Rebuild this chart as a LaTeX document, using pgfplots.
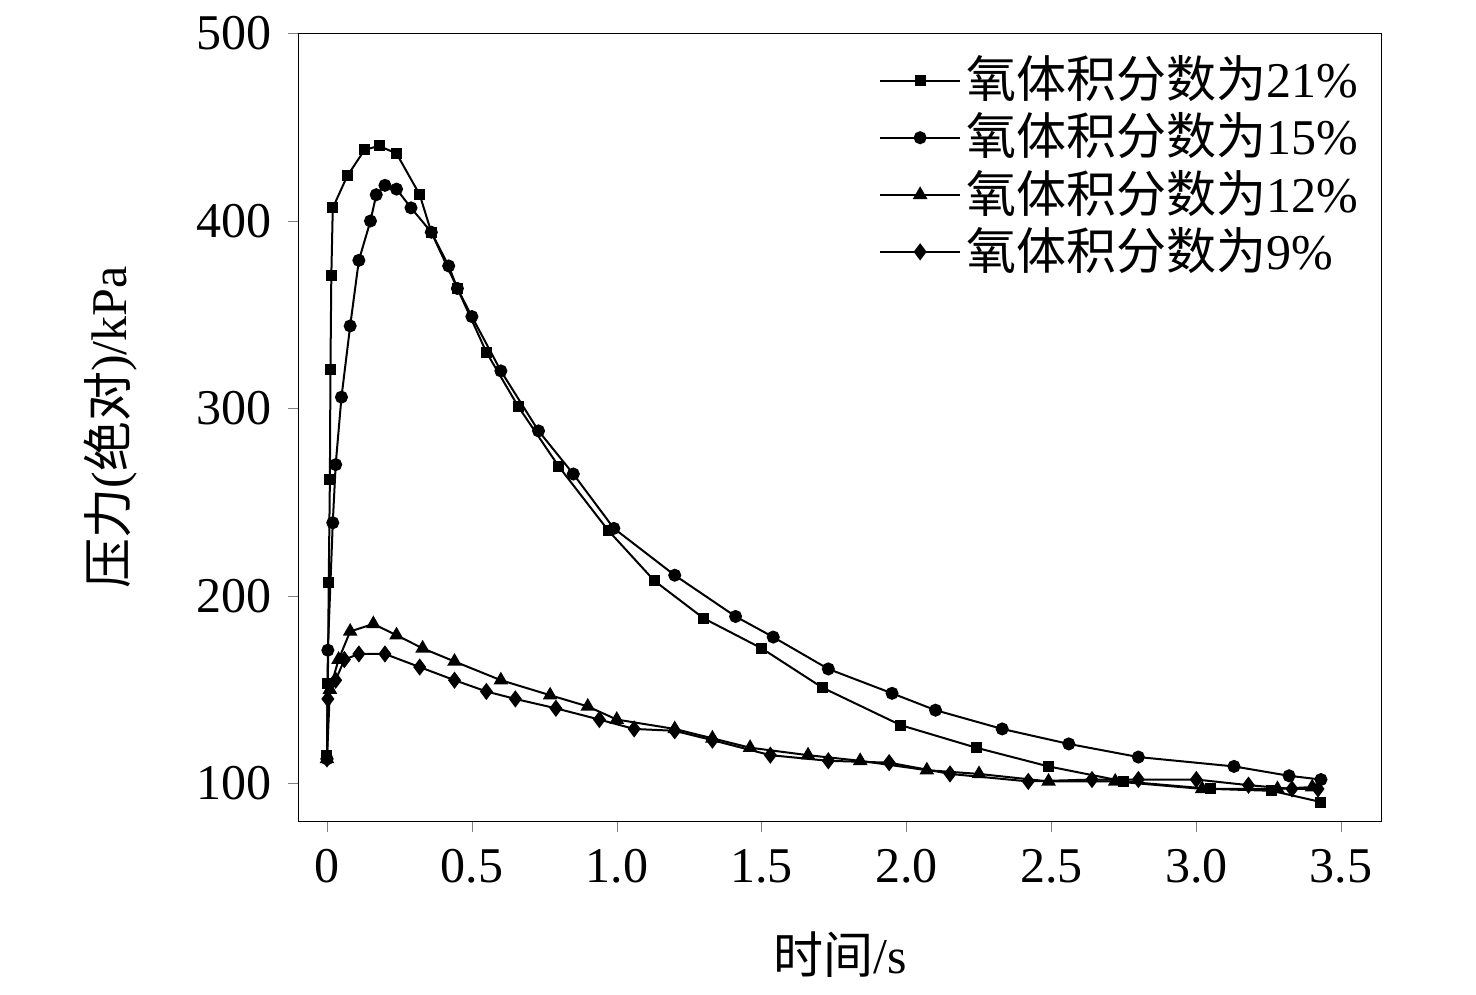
\documentclass[border=0pt]{standalone}
\usepackage{pgfplots}
\pgfplotsset{compat=1.18}
\usepackage{fontspec}
\setmainfont{Liberation Serif}
\newfontfamily\cjk{Noto Sans CJK SC}
\begin{document}
\fontsize{20}{24}\selectfont
\begin{tikzpicture}
\begin{axis}[scale only axis, width=433pt, height=315pt,
 xmin=-0.097, xmax=3.64, ymin=79.7, ymax=500,
 xtick={0,0.5,...,3.5}, xticklabels={0,0.5,1.0,1.5,2.0,2.5,3.0,3.5},
 ytick={100,200,300,400,500},
 tick align=outside, xtick pos=bottom, ytick pos=left,
 /pgf/number format/assume math mode=true,
 ticklabel style={font=\fontsize{20}{24}\selectfont},
 xlabel={{\cjk 时间}/s}, ylabel={{\cjk 压力}({\cjk 绝对})/kPa},
 label style={font=\fontsize{20}{24}\selectfont},
 xlabel style={yshift=-6pt}, ylabel style={yshift=10pt},
 legend style={draw=none, fill=none, at={(0.99,0.985)}, anchor=north east, font=\fontsize{20}{24}\selectfont, row sep=-1pt},
 legend cell align=left,
 legend image code/.code={\draw[#1] (0pt,0pt) -- (32pt,0pt); \draw[#1, only marks] plot coordinates {(16pt,0pt)};},
 every axis plot/.append style={black, thick, mark size=2.2pt},
 clip=false]
\addplot[mark=square*, mark size=1.8pt] coordinates {(0,115)(0.003,153)(0.006,207)(0.01,262)(0.012,321)(0.015,371)(0.02,407)(0.07,424)(0.13,438)(0.18,440)(0.24,436)(0.32,414)(0.36,394)(0.45,364)(0.55,330)(0.66,301)(0.8,269)(0.97,235)(1.13,208)(1.3,188)(1.5,172)(1.71,151)(1.98,131)(2.24,119)(2.49,109)(2.75,101)(3.05,97)(3.26,96)(3.43,90)};
\addlegendentry{{\cjk 氧体积分数为}21\%}
\addplot[mark=*] coordinates {(0,113)(0.003,171)(0.02,239)(0.03,270)(0.05,306)(0.08,344)(0.11,379)(0.15,400)(0.17,414)(0.2,419)(0.24,417)(0.29,407)(0.36,394)(0.42,376)(0.45,364)(0.5,349)(0.6,320)(0.73,288)(0.85,265)(0.99,236)(1.2,211)(1.41,189)(1.54,178)(1.73,161)(1.95,148)(2.1,139)(2.33,129)(2.56,121)(2.8,114)(3.13,109)(3.32,104)(3.43,102)};
\addlegendentry{{\cjk 氧体积分数为}15\%}
\addplot[mark=triangle*, mark size=2.6pt] coordinates {(0,113)(0.01,150)(0.04,166)(0.08,181)(0.16,185)(0.24,179)(0.33,172)(0.44,165)(0.6,155)(0.77,147)(0.9,141)(1.0,134)(1.2,129)(1.33,124)(1.46,119)(1.66,115)(1.84,112)(2.07,107)(2.25,105)(2.49,101)(2.72,101)(3.02,97)(3.28,97)(3.4,98)};
\addlegendentry{{\cjk 氧体积分数为}12\%}
\addplot[mark=diamond*, mark size=2.8pt] coordinates {(0,113)(0.003,145)(0.03,155)(0.06,166)(0.11,169)(0.2,169)(0.32,162)(0.44,155)(0.55,149)(0.65,145)(0.79,140)(0.94,134)(1.06,129)(1.2,128)(1.33,123)(1.53,115)(1.73,112)(1.94,111)(2.15,105)(2.42,101)(2.64,102)(2.8,102)(3.0,102)(3.18,99)(3.33,97)(3.42,97)};
\addlegendentry{{\cjk 氧体积分数为}9\%}
\path (rel axis cs:-0.276,-0.2056) rectangle (rel axis cs:1.087,1.038);
\end{axis}
\end{tikzpicture}
\end{document}
